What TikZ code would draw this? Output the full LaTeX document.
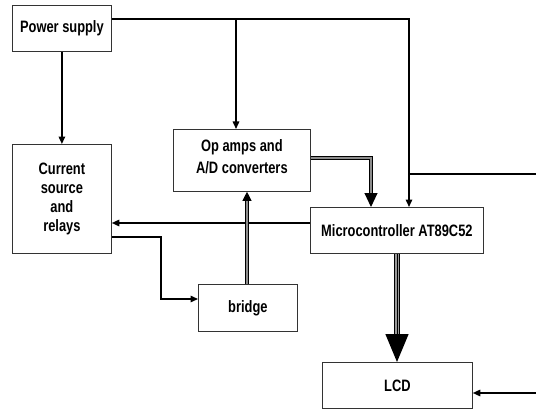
\documentclass[tikz,border=0pt]{standalone}
\usepackage{fontspec}
\setmainfont{Liberation Sans}[FakeStretch=0.78]
\usetikzlibrary{arrows.meta,calc}
\begin{document}
\begin{tikzpicture}[x=1pt,y=-1pt,
  box/.style={draw=black!80,line width=0.8pt,anchor=north west,inner sep=0pt,
    font=\bfseries\fontsize{16.5}{19}\selectfont,align=center},
  conn/.style={line width=1.5pt,black},
  tip/.style={-{Triangle[length=7.5pt,width=6.5pt]}},
  dbl/.style={line width=1pt,double=black!45,double distance=1.4pt},
]
\useasboundingbox (0,0) rectangle (536,412);
\node[box,minimum width=99pt,minimum height=46pt] (ps) at (12,5) {Power supply};
\node[box,minimum width=99pt,minimum height=109pt] (cs) at (12,144) {Current\\source\\and\\relays};
\node[box,minimum width=137pt,minimum height=62pt,font=\bfseries\fontsize{16.5}{22}\selectfont] (oa) at (173,129) {};
\node[font=\bfseries\fontsize{16.5}{22}\selectfont,align=center,inner sep=0pt] (oat) at ($(oa.center)+(0,-4)$) {Op amps and\\A/D converters};
\node[box,minimum width=173pt,minimum height=46pt] (mc) at (310,207) {Microcontroller AT89C52};
\node[box,minimum width=99pt,minimum height=47pt] (br) at (198,284) {bridge};
\node[box,minimum width=150pt,minimum height=46pt] (lcd) at (322,362) {LCD};

\coordinate (tr) at (409,19);
\coordinate (tb) at (236,19);
\coordinate (r1) at (536,174);
\coordinate (r2) at (536,393);
\coordinate (ym) at (0,223);
\coordinate (yc) at (0,237);
\coordinate (cb) at (161,299);
\coordinate (xo) at (371,158);
\coordinate (xb) at (247,0);
\coordinate (xl) at (397,0);

% power distribution
\draw[conn,tip] (ps.east |- tr) -- (tr) -- (mc.north -| tr);
\draw[conn,tip] (tb) -- (oa.north -| tb);
\draw[conn,tip] (ps.south) -- (cs.north);
\draw[conn] (r1 -| tr) -- (r1);
\draw[conn,tip] (r2) -- (lcd.east |- r2);

% signals
\draw[conn,tip] (mc.west |- ym) -- (cs.east |- ym);
\draw[conn,tip] (cs.east |- yc) -- (yc -| cb) -- (cb) -- (br.west |- cb);
\draw[dbl,-{Triangle[length=9pt,width=9pt]}] (br.north -| xb) -- (oa.south -| xb);
\draw[dbl,-{Triangle[length=14pt,width=13pt]}] (oa.east |- xo) -- (xo) -- (mc.north -| xo);
\draw[line width=1.3pt,double=black!40,double distance=3.2pt,-{Triangle[length=28pt,width=23pt]}] (mc.south -| xl) -- (lcd.north -| xl);
\draw[line width=0.9pt] (mc.south -| xl) -- ($(lcd.north -| xl)+(0,-26)$);
\end{tikzpicture}
\end{document}
